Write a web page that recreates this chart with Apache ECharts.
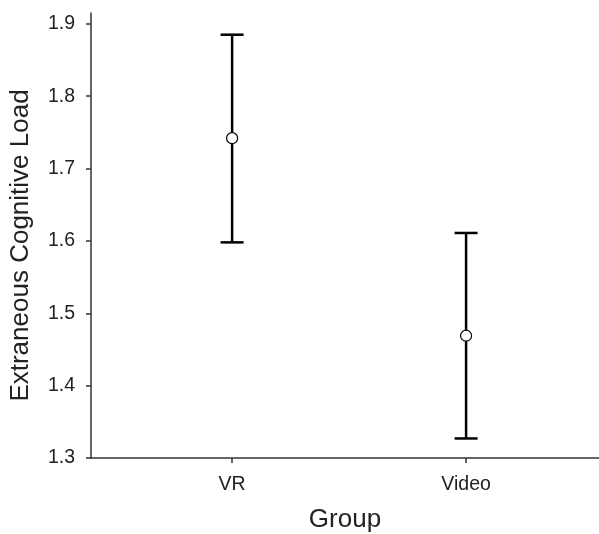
<!DOCTYPE html>
<html>
<head>
<meta charset="utf-8">
<script src="https://cdn.jsdelivr.net/npm/echarts@6/dist/echarts.min.js"></script>
<style>
  html, body { margin: 0; padding: 0; background: #fff; }
  #chart { width: 599px; height: 534px; }
</style>
</head>
<body>
<div id="chart"></div>
<script>
  // data
  const groups = ['VR', 'Video'];
  const means = [1.742, 1.469];
  const lower = [1.598, 1.327];
  const upper = [1.885, 1.611];
  const yTicks = [1.3, 1.4, 1.5, 1.6, 1.7, 1.8, 1.9];

  const groupPos = groups.map((g, i) => i + 1);
  const barData = groups.map((g, i) => [groupPos[i], lower[i], upper[i]]);
  const pointData = groups.map((g, i) => [groupPos[i], means[i]]);

  const axisColor = '#333';
  const font = '"Liberation Sans", Arial, sans-serif';

  const chart = echarts.init(document.getElementById('chart'));
  const option = {
    animation: false,
    backgroundColor: '#fff',
    // keep the grid exactly where it is set, no auto shrink for labels
    grid: { left: 91, right: 0, top: 13, bottom: 76, outerBoundsMode: 'none', containLabel: false },
    xAxis: {
      type: 'value',
      min: 0.397,
      max: 2.568,
      name: 'Group',
      nameLocation: 'middle',
      nameGap: 49,
      nameTextStyle: { fontSize: 26, color: '#222', fontFamily: font },
      axisLine: { lineStyle: { color: axisColor, width: 1.5 } },
      axisTick: { customValues: groupPos, length: 5, lineStyle: { color: axisColor, width: 1.5 } },
      axisLabel: {
        customValues: groupPos,
        formatter: v => groups[Math.round(v) - 1] || '',
        fontSize: 19.5, color: '#222', fontFamily: font, margin: 17
      },
      splitLine: { show: false }
    },
    yAxis: {
      type: 'value',
      min: 1.3,
      max: 1.915,
      name: 'Extraneous Cognitive Load',
      nameLocation: 'middle',
      nameGap: 57,
      nameTextStyle: { fontSize: 26, color: '#222', fontFamily: font, padding: [0, 20, 0, 0] },
      axisLine: { show: true, lineStyle: { color: axisColor, width: 1.5 } },
      axisTick: { show: true, customValues: yTicks, length: 5, lineStyle: { color: axisColor, width: 1.5 } },
      axisLabel: {
        customValues: yTicks,
        formatter: v => v.toFixed(1),
        fontSize: 19.5, color: '#222', fontFamily: font, margin: 16
      },
      splitLine: { show: false }
    },
    series: [
      {
        type: 'custom',
        data: barData,
        z: 2,
        renderItem: function (params, api) {
          const x = api.value(0);
          const lo = api.coord([x, api.value(1)]);
          const hi = api.coord([x, api.value(2)]);
          const half = 11.5;
          const style = { stroke: '#000', lineWidth: 2.5 };
          return {
            type: 'group',
            children: [
              { type: 'line', shape: { x1: lo[0], y1: lo[1], x2: hi[0], y2: hi[1] }, style: style },
              { type: 'line', shape: { x1: lo[0] - half, y1: lo[1], x2: lo[0] + half, y2: lo[1] }, style: style },
              { type: 'line', shape: { x1: hi[0] - half, y1: hi[1], x2: hi[0] + half, y2: hi[1] }, style: style }
            ]
          };
        }
      },
      {
        type: 'scatter',
        data: pointData,
        z: 3,
        symbol: 'circle',
        symbolSize: 11,
        itemStyle: { color: '#fff', borderColor: '#000', borderWidth: 1.2, opacity: 1 }
      }
    ]
  };
  chart.setOption(option);
</script>
</body>
</html>
